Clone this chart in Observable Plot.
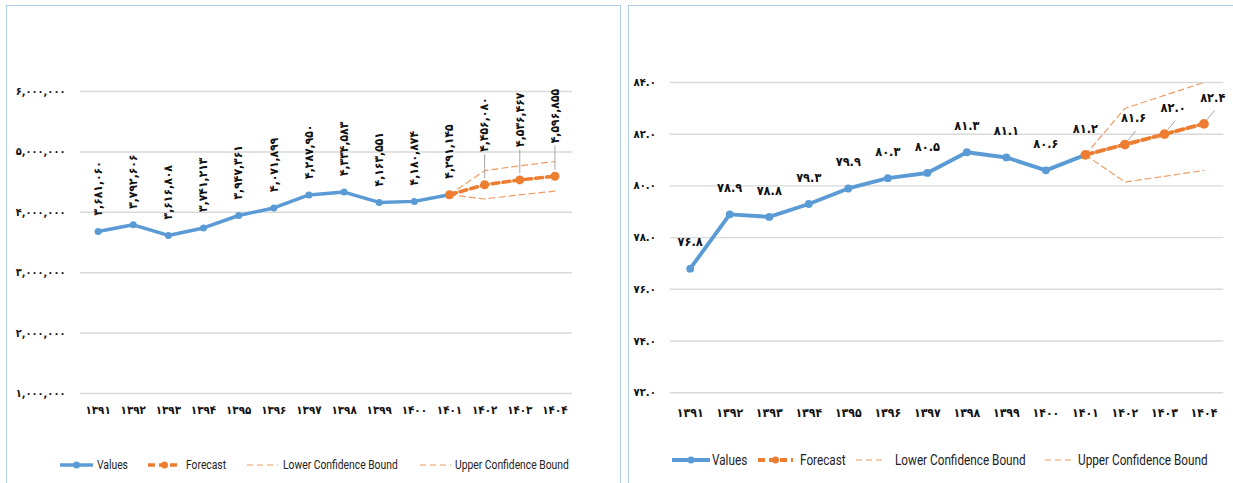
<!DOCTYPE html>
<html>
<head>
<meta charset="utf-8">
<script src="https://cdn.jsdelivr.net/npm/d3@7"></script>
<script src="https://cdn.jsdelivr.net/npm/@observablehq/plot@0.6"></script>
<style>
  html, body { margin: 0; padding: 0; background: #fff; }
  body { width: 1233px; height: 483px; overflow: hidden; position: relative; font-family: "DejaVu Sans Condensed", "DejaVu Sans", sans-serif; }
  .panel { position: absolute; border: 1px solid #AFCBE8; box-sizing: border-box; }
  .chart { position: absolute; top: 0; }
  .legend { position: absolute; font-family: "Roboto", "Liberation Sans", sans-serif; color: #222; white-space: nowrap; }
  .legend svg { position: absolute; overflow: visible; }
  .legend span { position: absolute; top: 0; transform-origin: 0 50%; }
</style>
</head>
<body>
<div class="panel" style="left:6px; top:5px; width:615px; height:500px;"></div>
<div class="panel" style="left:628px; top:5px; width:640px; height:500px;"></div>
<div id="left" class="chart" style="left:0px;"></div>
<div id="right" class="chart" style="left:628px;"></div>
<div id="legL" class="legend" style="left:0; top:465px; font-size:12px;"></div>
<div id="legR" class="legend" style="left:0; top:460px; font-size:14px;"></div>
<script>
// ---------- data ----------
const years = [1391, 1392, 1393, 1394, 1395, 1396, 1397, 1398, 1399, 1400, 1401, 1402, 1403, 1404];
const yearLabels = ["۱۳۹۱","۱۳۹۲","۱۳۹۳","۱۳۹۴","۱۳۹۵","۱۳۹۶","۱۳۹۷","۱۳۹۸","۱۳۹۹","۱۴۰۰","۱۴۰۱","۱۴۰۲","۱۴۰۳","۱۴۰۴"];
const valueYears = [1391, 1392, 1393, 1394, 1395, 1396, 1397, 1398, 1399, 1400, 1401];
const forecastYears = [1401, 1402, 1403, 1404];

// left chart
const leftValues = [3681060, 3792606, 3616808, 3741213, 3947361, 4071899, 4287950, 4334583, 4163551, 4180874, 4291145];
const leftForecast = [4291145, 4456080, 4536467, 4596855];
const leftLower = [4291145, 4220000, 4290000, 4350000];
const leftUpper = [4291145, 4690000, 4770000, 4840000];
const leftYTicks = [1000000, 2000000, 3000000, 4000000, 5000000, 6000000];
const leftYLabels = ["۱,۰۰۰,۰۰۰","۲,۰۰۰,۰۰۰","۳,۰۰۰,۰۰۰","۴,۰۰۰,۰۰۰","۵,۰۰۰,۰۰۰","۶,۰۰۰,۰۰۰"];

// right chart
const rightValues = [76.8, 78.9, 78.8, 79.3, 79.9, 80.3, 80.5, 81.3, 81.1, 80.6, 81.2];
const rightForecast = [81.2, 81.6, 82.0, 82.4];
const rightLower = [81.2, 80.15, 80.37, 80.6];
const rightUpper = [81.2, 83.0, 83.5, 84.0];
const rightYTicks = [72, 74, 76, 78, 80, 82, 84];
const rightYLabels = ["۷۲.۰","۷۴.۰","۷۶.۰","۷۸.۰","۸۰.۰","۸۲.۰","۸۴.۰"];

const legendLabels = ["Values", "Forecast", "Lower Confidence Bound", "Upper Confidence Bound"];

// ---------- helpers ----------
const fa = s => String(s).replace(/[0-9]/g, d => "۰۱۲۳۴۵۶۷۸۹"[+d]);
const zip = (xs, vs) => xs.map((x, i) => ({year: x, v: vs[i]}));
const yearFmt = d => yearLabels[years.indexOf(d)];

const BLUE = "#5B9BD5", ORANGE = "#ED7D31", BOUND = "#F09C63", GRID = "#D9D9D9", LEADER = "#A6A6A6";
const FONT = '"DejaVu Sans Condensed", "DejaVu Sans", sans-serif';

// ---------- left chart ----------
{
  const vals = zip(valueYears, leftValues);
  const fc = zip(forecastYears, leftForecast);
  const lo = zip(forecastYears, leftLower);
  const hi = zip(forecastYears, leftUpper);
  const fmt = d => fa(d3.format(",")(d.v));
  const px = 1e6 / 60.4; // value per pixel (for label leaders)
  const chart = Plot.plot({
    width: 620, height: 430,
    marginLeft: 80, marginRight: 48, marginTop: 91, marginBottom: 37,
    x: {type: "linear", domain: [1390.5, 1404.5], axis: null, label: null},
    y: {domain: [1000000, 6000000], axis: null, label: null},
    style: {fontFamily: FONT, background: "transparent", overflow: "visible", color: "#222"},
    marks: [
      Plot.gridY(leftYTicks, {stroke: GRID, strokeOpacity: 1, strokeWidth: 1.5}),
      Plot.axisY(leftYTicks, {label: null, tickFormat: d => leftYLabels[leftYTicks.indexOf(d)], tickSize: 0, tickPadding: 15, fontSize: 11, fontWeight: "bold", fill: "#111"}),
      Plot.axisX(years, {label: null, tickFormat: yearFmt, tickSize: 0, tickPadding: 12, fontSize: 11.5, fontWeight: "bold", fill: "#111"}),
      Plot.line(lo, {x: "year", y: "v", stroke: BOUND, strokeWidth: 1.2, strokeDasharray: "6,4"}),
      Plot.line(hi, {x: "year", y: "v", stroke: BOUND, strokeWidth: 1.2, strokeDasharray: "6,4"}),
      Plot.line(vals, {x: "year", y: "v", stroke: BLUE, strokeWidth: 3.5}),
      Plot.dot(vals, {x: "year", y: "v", r: 3.5, fill: BLUE}),
      Plot.line(fc, {x: "year", y: "v", stroke: ORANGE, strokeWidth: 3.5, strokeDasharray: "7,4"}),
      Plot.dot(fc, {x: "year", y: "v", r: 4.5, fill: ORANGE}),
      Plot.ruleX(fc.slice(1), {x: "year", y1: d => d.v + 6 * px, y2: d => d.v + 30 * px, stroke: LEADER, strokeWidth: 1}),
      Plot.text(vals, {x: "year", y: "v", text: fmt, rotate: -90, textAnchor: "start", dy: -16, fontSize: 12, fontWeight: "bold", fill: "#111"}),
      Plot.text(fc.slice(1), {x: "year", y: "v", text: fmt, rotate: -90, textAnchor: "start", dy: -33, fontSize: 12, fontWeight: "bold", fill: "#111"})
    ]
  });
  document.getElementById("left").appendChild(chart);
}

// ---------- right chart ----------
{
  const vals = zip(valueYears, rightValues);
  const fc = zip(forecastYears, rightForecast);
  const lo = zip(forecastYears, rightLower);
  const hi = zip(forecastYears, rightUpper);
  const fmt = d => fa(d3.format(".1f")(d.v));
  const py = 1 / 26.55;   // value per pixel
  const pxx = 1 / 40.5;   // year per pixel
  const chart = Plot.plot({
    width: 620, height: 430,
    marginLeft: 43, marginRight: 10, marginTop: 84, marginBottom: 28,
    x: {type: "linear", domain: [1390.5, 1404.5], axis: null, label: null},
    y: {domain: [72, 84], axis: null, label: null},
    style: {fontFamily: FONT, background: "transparent", overflow: "visible", color: "#222"},
    marks: [
      Plot.gridY(rightYTicks, {stroke: GRID, strokeOpacity: 1, strokeWidth: 1.5}),
      Plot.axisY(rightYTicks, {label: null, tickFormat: d => rightYLabels[rightYTicks.indexOf(d)], tickSize: 0, tickPadding: 15, fontSize: 11.5, fontWeight: "bold", fill: "#111"}),
      Plot.axisX(years, {label: null, tickFormat: yearFmt, tickSize: 0, tickPadding: 16, fontSize: 12.5, fontWeight: "bold", fill: "#111"}),
      Plot.line(lo, {x: "year", y: "v", stroke: BOUND, strokeWidth: 1.2, strokeDasharray: "6,4"}),
      Plot.line(hi, {x: "year", y: "v", stroke: BOUND, strokeWidth: 1.2, strokeDasharray: "6,4"}),
      Plot.line(vals, {x: "year", y: "v", stroke: BLUE, strokeWidth: 4}),
      Plot.dot(vals, {x: "year", y: "v", r: 4, fill: BLUE}),
      Plot.line(fc, {x: "year", y: "v", stroke: ORANGE, strokeWidth: 4, strokeDasharray: "8,4"}),
      Plot.dot(fc, {x: "year", y: "v", r: 5, fill: ORANGE}),
      Plot.link(fc.slice(1), {x1: d => d.year + 3 * pxx, y1: d => d.v + 4 * py, x2: d => d.year + 11 * pxx, y2: d => d.v + 14 * py, stroke: LEADER, strokeWidth: 1}),
      Plot.text(vals, {x: "year", y: "v", text: fmt, dy: -27, fontSize: 13, fontWeight: "bold", fill: "#111"}),
      Plot.text(fc.slice(1), {x: "year", y: "v", text: fmt, dx: 9, dy: -27, fontSize: 13, fontWeight: "bold", fill: "#111"})
    ]
  });
  document.getElementById("right").appendChild(chart);
}

// ---------- legends ----------
function legend(id, layout, lw, squeeze) {
  const el = document.getElementById(id);
  const styles = [
    {stroke: BLUE, w: lw, dash: null, dot: BLUE},
    {stroke: ORANGE, w: lw, dash: "7,4", dot: ORANGE},
    {stroke: BOUND, w: 1.2, dash: "6,4", dot: null},
    {stroke: BOUND, w: 1.2, dash: "6,4", dot: null}
  ];
  legendLabels.forEach((label, i) => {
    const [x0, x1, tx] = layout[i];
    const s = styles[i];
    const ns = "http://www.w3.org/2000/svg";
    const svg = document.createElementNS(ns, "svg");
    svg.setAttribute("width", x1 - x0);
    svg.setAttribute("height", 10);
    svg.style.left = x0 + "px";
    svg.style.top = "-5px";
    const line = document.createElementNS(ns, "line");
    line.setAttribute("x1", 0); line.setAttribute("x2", x1 - x0);
    line.setAttribute("y1", 5); line.setAttribute("y2", 5);
    line.setAttribute("stroke", s.stroke);
    line.setAttribute("stroke-width", s.w);
    if (s.dash) line.setAttribute("stroke-dasharray", s.dash);
    svg.appendChild(line);
    if (s.dot) {
      const c = document.createElementNS(ns, "circle");
      c.setAttribute("cx", (x1 - x0) / 2); c.setAttribute("cy", 5); c.setAttribute("r", 3.5);
      c.setAttribute("fill", s.dot);
      svg.appendChild(c);
    }
    el.appendChild(svg);
    const sp = document.createElement("span");
    sp.textContent = label;
    sp.style.left = tx + "px";
    sp.style.transform = `translateY(-50%) scaleX(${squeeze})`;
    el.appendChild(sp);
  });
}
legend("legL", [[60, 93, 97], [148, 181, 186], [247, 278, 283], [420, 451, 455]], 3.5, 0.86);
legend("legR", [[672, 710, 712], [758, 793, 800], [856, 886, 895], [1045, 1075, 1078]], 4, 0.84);
</script>
</body>
</html>
